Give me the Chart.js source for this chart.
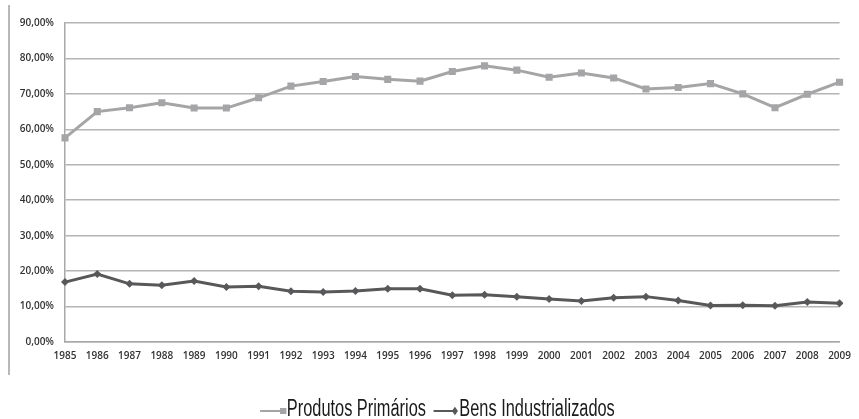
<!DOCTYPE html>
<html lang="pt">
<head>
    <meta charset="UTF-8">
    <title>Produtos Primários x Bens Industrializados</title>
    <style>
        html, body { margin: 0; padding: 0; background: #fff; }
        #wrap { width: 859px; height: 419px; position: relative; overflow: hidden; }
        #legend {
            position: absolute;
            left: 8px;
            top: 397px;
            width: 859px;
            height: 23px;
            display: flex;
            justify-content: center;
            align-items: center;
            white-space: nowrap;
            font-family: "Liberation Sans", Arial, sans-serif;
            font-size: 23px;
            line-height: 23px;
            color: #1a1a1a;
            transform: scaleX(0.711);
            transform-origin: 50% 50%;
        }
        #legend .item { display: flex; align-items: center; height: 23px; }
        #legend .item + .item { margin-left: 11px; }
        #legend .line { width: 28px; height: 2px; position: relative; top: 2px; }
        #legend .sq { width: 8.5px; height: 6px; position: relative; top: 2px; }
        #legend .dia { width: 6px; height: 6px; transform: rotate(45deg); position: relative; top: 2px; margin: 0 2px 0 -1px; }
        #legend .txt { margin-left: 1px; }
    </style>
    <script src="https://cdn.jsdelivr.net/npm/chart.js"></script>
</head>
<body>
    <div id="wrap">
        <canvas id="exportChart"></canvas>
        <div id="legend"></div>
    </div>

    <script>
        // Anos e participação (%) de cada grupo de produtos
        const anos = ['1985', '1986', '1987', '1988', '1989', '1990', '1991', '1992', '1993', '1994',
                      '1995', '1996', '1997', '1998', '1999', '2000', '2001', '2002', '2003', '2004',
                      '2005', '2006', '2007', '2008', '2009'];
        const produtosPrimarios = [57.6, 65.0, 66.1, 67.5, 66.0, 66.0, 68.9, 72.2, 73.5, 74.9,
                                   74.1, 73.6, 76.3, 77.9, 76.7, 74.7, 75.9, 74.5, 71.4, 71.8,
                                   72.9, 70.0, 66.1, 69.9, 73.3];
        const bensIndustrializados = [16.9, 19.2, 16.4, 16.0, 17.2, 15.5, 15.7, 14.3, 14.1, 14.4,
                                      15.0, 15.0, 13.2, 13.3, 12.8, 12.1, 11.6, 12.5, 12.8, 11.7,
                                      10.3, 10.4, 10.2, 11.3, 10.9];
        const yTicks = [0, 10, 20, 30, 40, 50, 60, 70, 80, 90];

        const corPrimarios = '#a5a5a7';
        const corIndustrializados = '#58585a';

        // thin vertical rule at the far left of the figure
        const leftRule = {
            id: 'leftRule',
            beforeDraw(chart) {
                const ctx = chart.ctx;
                ctx.save();
                ctx.strokeStyle = '#a0a0a0';
                ctx.lineWidth = 1.5;
                ctx.beginPath();
                ctx.moveTo(9, 5);
                ctx.lineTo(9, 375);
                ctx.stroke();
                ctx.restore();
            }
        };

        const tickFont = { family: '"Open Sans", sans-serif', size: 10, weight: '600' };

        const chart = new Chart(document.getElementById('exportChart'), {
            type: 'line',
            data: {
                labels: anos,
                datasets: [
                    {
                        label: 'Produtos Primários',
                        data: produtosPrimarios,
                        borderColor: corPrimarios,
                        backgroundColor: corPrimarios,
                        borderWidth: 3,
                        pointStyle: 'rect',
                        pointRadius: 5,
                        pointBorderWidth: 0,
                        tension: 0
                    },
                    {
                        label: 'Bens Industrializados',
                        data: bensIndustrializados,
                        borderColor: corIndustrializados,
                        backgroundColor: corIndustrializados,
                        borderWidth: 3,
                        pointStyle: 'rectRot',
                        pointRadius: 4,
                        pointBorderWidth: 0,
                        tension: 0
                    }
                ]
            },
            options: {
                responsive: true,
                maintainAspectRatio: false,
                animation: false,
                layout: { padding: { left: 10, right: 12, top: 23, bottom: 57 } },
                plugins: {
                    tooltip: { enabled: false },
                    legend: { display: false }
                },
                scales: {
                    x: {
                        offset: false,
                        afterFit(axis) { axis.height = 20; },
                        grid: { display: false, drawTicks: false },
                        border: { color: '#a8a8a8', width: 1.5 },
                        ticks: { color: '#333', font: tickFont, padding: 8, maxRotation: 0, autoSkip: false }
                    },
                    y: {
                        min: 0,
                        max: 90,
                        afterBuildTicks(axis) { axis.ticks = yTicks.map(v => ({ value: v })); },
                        afterFit(axis) { axis.width = 55; },
                        grid: { color: '#b4b4b4', lineWidth: 1.5, drawTicks: false },
                        border: { color: '#a8a8a8', width: 1.5 },
                        ticks: {
                            color: '#333',
                            font: tickFont,
                            padding: 11,
                            callback: v => v.toFixed(2).replace('.', ',') + '%'
                        }
                    }
                }
            },
            plugins: [leftRule]
        });

        // legend built from the datasets (line segment + marker + name)
        const legend = document.getElementById('legend');
        chart.data.datasets.forEach((ds, i) => {
            const item = document.createElement('span');
            item.className = 'item';
            const line = document.createElement('span');
            line.className = 'line';
            line.style.background = ds.borderColor;
            const mark = document.createElement('span');
            mark.className = i === 0 ? 'sq' : 'dia';
            mark.style.background = ds.borderColor;
            const txt = document.createElement('span');
            txt.className = 'txt';
            txt.textContent = ds.label;
            item.append(line, mark, txt);
            legend.appendChild(item);
        });
    </script>
</body>
</html>
